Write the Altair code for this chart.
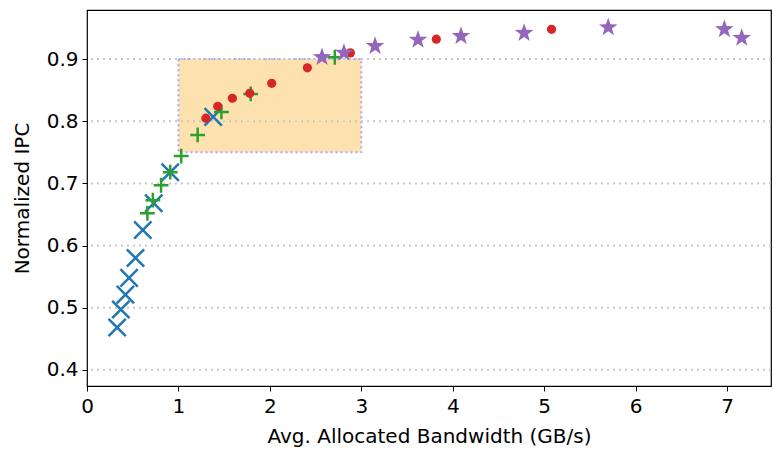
import math
import altair as alt
import pandas as pd

# Series values
blue_x = [0.33, 0.37, 0.42, 0.46, 0.53, 0.61, 0.73, 0.91, 1.38]
blue_y = [0.468, 0.497, 0.521, 0.548, 0.580, 0.625, 0.668, 0.718, 0.807]

green_x = [0.66, 0.72, 0.81, 0.91, 1.03, 1.21, 1.47, 1.79, 2.71]
green_y = [0.652, 0.673, 0.697, 0.718, 0.744, 0.778, 0.815, 0.844, 0.903]

red_x = [1.30, 1.43, 1.59, 1.78, 2.02, 2.41, 2.88, 3.82, 5.08]
red_y = [0.805, 0.824, 0.837, 0.845, 0.861, 0.886, 0.910, 0.932, 0.948]

purple_x = [2.57, 2.81, 3.15, 3.62, 4.09, 4.78, 5.70, 6.97, 7.16]
purple_y = [0.903, 0.910, 0.921, 0.931, 0.937, 0.942, 0.951, 0.948, 0.934]

y_ticks = [0.4, 0.5, 0.6, 0.7, 0.8, 0.9]
x_ticks = [0, 1, 2, 3, 4, 5, 6, 7]

box = pd.DataFrame({"x1": [1.0], "x2": [3.0], "y1": [0.75], "y2": [0.9]})

FONT = "DejaVu Sans"
XDOM = [0, 7.48]
YDOM = [0.374, 0.979]

xs = alt.Scale(domain=XDOM, nice=False, zero=False)
ys = alt.Scale(domain=YDOM, nice=False, zero=False)

def series(xv, yv, name):
    return pd.DataFrame({"x": xv, "y": yv, "s": [name] * len(xv)})

xaxis = alt.Axis(values=x_ticks, title="Avg. Allocated Bandwidth (GB/s)", grid=False,
                 labelFont=FONT, titleFont=FONT, labelFontSize=20, titleFontSize=20,
                 titleFontWeight="normal", labelColor="black", titleColor="black",
                 tickColor="black", domain=False, tickSize=5, labelPadding=5,
                 titlePadding=10, format="d", labelFlush=False)
yaxis = alt.Axis(values=y_ticks, title="Normalized IPC", grid=False,
                 labelFont=FONT, titleFont=FONT, labelFontSize=20, titleFontSize=20,
                 titleFontWeight="normal", labelColor="black", titleColor="black",
                 tickColor="black", domain=False, tickSize=5, labelPadding=4,
                 titlePadding=14, format=".1f", labelFlush=False)

def X(field):
    return alt.X(field, scale=xs, axis=xaxis)

def Y(field):
    return alt.Y(field, scale=ys, axis=yaxis)

rect = alt.Chart(box).mark_rect(
    fill="#fde2b0", stroke="#a8a8f8", strokeWidth=2, strokeDash=[2, 3]
).encode(x=X("x1:Q"), x2="x2:Q", y=Y("y1:Q"), y2="y2:Q")

grid = alt.Chart(pd.DataFrame({"t": y_ticks})).mark_rule(
    color="#c8c8c8", strokeWidth=2, strokeDash=[2, 4]
).encode(y=Y("t:Q"))

X_PATH = "M-1,-1L1,1M-1,1L1,-1"
P_PATH = "M-1,0L1,0M0,-1L0,1"
pts = []
for k in range(10):
    r = 1.0 if k % 2 == 0 else 0.4
    a = math.radians(-90 + 36 * k)
    pts.append(f"{r * math.cos(a):.4f},{r * math.sin(a):.4f}")
STAR_PATH = "M" + "L".join(pts) + "Z"

blue = alt.Chart(series(blue_x, blue_y, "a")).mark_point(
    shape=X_PATH, filled=False, color="#1f77b4", strokeWidth=2.5, size=300, opacity=1
).encode(x=X("x:Q"), y=Y("y:Q"))

green = alt.Chart(series(green_x, green_y, "b")).mark_point(
    shape=P_PATH, filled=False, color="#2ca02c", strokeWidth=2.5, size=220, opacity=1
).encode(x=X("x:Q"), y=Y("y:Q"))

red = alt.Chart(series(red_x, red_y, "c")).mark_point(
    shape="circle", filled=True, color="#d62728", size=85, opacity=1
).encode(x=X("x:Q"), y=Y("y:Q"))

purple = alt.Chart(series(purple_x, purple_y, "d")).mark_point(
    shape=STAR_PATH, filled=True, color="#9467bd", size=380, opacity=1
).encode(x=X("x:Q"), y=Y("y:Q"))

chart = alt.layer(rect, grid, blue, green, red, purple).properties(
    width=684, height=376,
    autosize=alt.AutoSizeParams(type="none"),
    padding={"left": 87, "top": 10, "right": 3, "bottom": 67},
).configure(background="white").configure_view(stroke="black", strokeWidth=1.2)

chart.save("out.html", embed_options={"renderer": "svg", "actions": False})
